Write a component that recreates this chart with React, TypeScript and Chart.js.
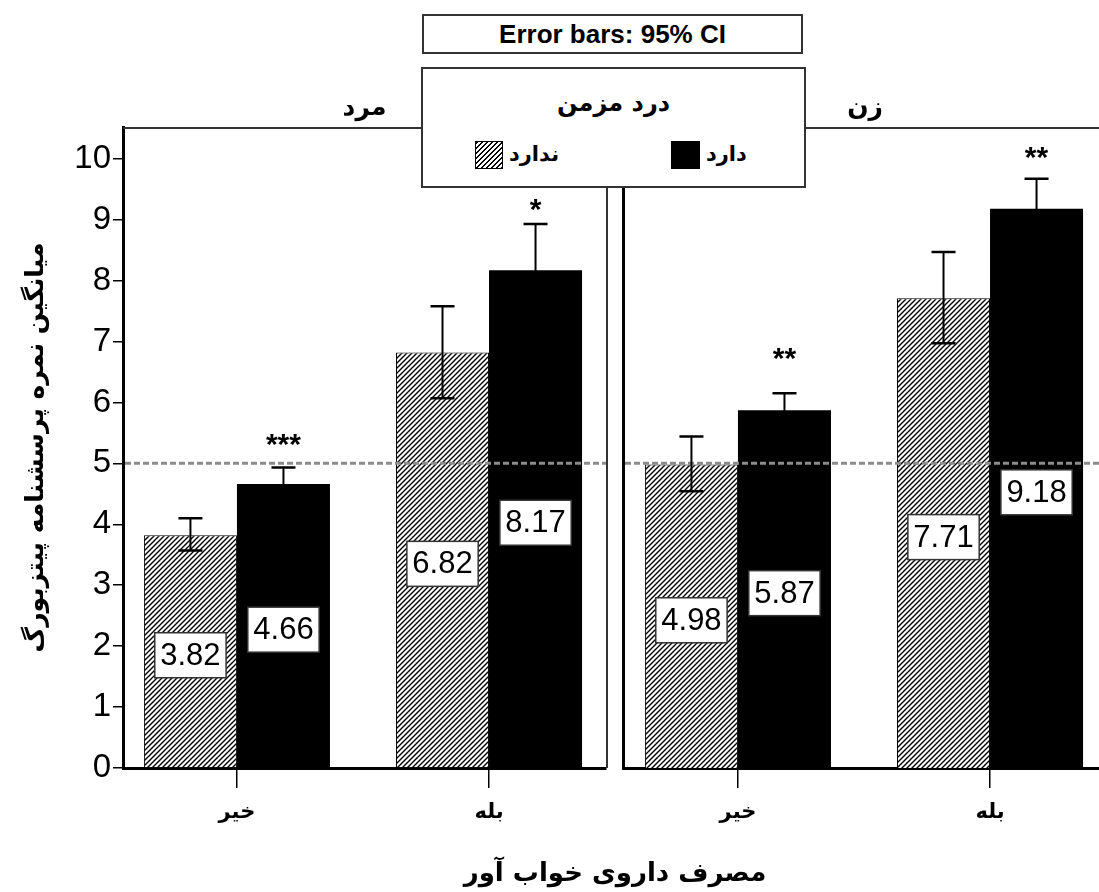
import React, { useEffect, useRef } from 'react';
import { Chart, registerables } from 'chart.js';

Chart.register(...registerables);

// ---------- data ----------
const groups = ['خیر', 'بله'];
const panelTitles = ['مرد', 'زن'];
const seriesLabels = ['ندارد', 'دارد'];
const legendTitle = 'درد مزمن';
const errorNote = 'Error bars: 95% CI';
const xAxisTitle = 'مصرف داروی خواب آور';
const yAxisTitle = 'میانگین نمره پرسشنامه پیتزبورگ';

const maleNo = [3.82, 6.82];
const maleYes = [4.66, 8.17];
const femaleNo = [4.98, 7.71];
const femaleYes = [5.87, 9.18];

const maleNoLow = [3.57, 6.07];
const maleNoHigh = [4.1, 7.58];
const maleYesLow = [4.39, 7.41];
const maleYesHigh = [4.93, 8.93];
const femaleNoLow = [4.54, 6.97];
const femaleNoHigh = [5.44, 8.47];
const femaleYesLow = [5.59, 8.69];
const femaleYesHigh = [6.15, 9.67];

const maleStars = ['***', '*'];
const maleStarY = [5.44, 9.29];
const femaleStars = ['**', '**'];
const femaleStarY = [6.84, 10.14];

const yMin = 0;
const yMax = 10.52;
const yStep = 1;
const refLine = 5;

const LATIN = '"Liberation Sans", Arial, sans-serif';
const ARABIC = '"DejaVu Sans", "Liberation Sans", sans-serif';

type Panel = {
  title: string;
  no: number[];
  yes: number[];
  noLow: number[];
  noHigh: number[];
  yesLow: number[];
  yesHigh: number[];
  stars: string[];
  starY: number[];
  xMin: number;
  xMax: number;
  yWidth: number;
  showY: boolean;
  rightPad: number;
};

function makeHatch(ctx: CanvasRenderingContext2D) {
  const s = 5;
  const c = document.createElement('canvas');
  c.width = s;
  c.height = s;
  const g = c.getContext('2d')!;
  g.fillStyle = '#fff';
  g.fillRect(0, 0, s, s);
  g.strokeStyle = '#000';
  g.lineWidth = 1.4;
  g.beginPath();
  g.moveTo(0, s);
  g.lineTo(s, 0);
  g.moveTo(-1, 1);
  g.lineTo(1, -1);
  g.moveTo(s - 1, s + 1);
  g.lineTo(s + 1, s - 1);
  g.stroke();
  return ctx.createPattern(c, 'repeat')!;
}

function buildChart(canvas: HTMLCanvasElement, p: Panel) {
  const ctx = canvas.getContext('2d')!;
  const hatch = makeHatch(ctx);

  const overlay = {
    id: 'overlay',
    beforeDatasetsDraw(chart: any) {
      const { ctx: c, chartArea: a } = chart;
      c.save();
      c.strokeStyle = '#333';
      c.lineWidth = 2;
      c.beginPath();
      c.moveTo(a.left, a.top + 1);
      c.lineTo(a.right + 1, a.top + 1);
      c.moveTo(a.right + 1, a.top);
      c.lineTo(a.right + 1, a.bottom);
      c.stroke();
      c.fillStyle = '#000';
      c.font = `bold 25px ${ARABIC}`;
      c.textAlign = 'center';
      c.textBaseline = 'middle';
      c.fillText(p.title, (a.left + a.right) / 2, a.top - 19);
      c.restore();
    },
    afterDatasetsDraw(chart: any) {
      const { ctx: c, chartArea: a } = chart;
      const y = chart.scales.y;
      c.save();
      // reference line
      c.strokeStyle = '#8c8c8c';
      c.lineWidth = 3;
      c.setLineDash([6, 3]);
      const ry = y.getPixelForValue(refLine);
      c.beginPath();
      c.moveTo(a.left + 2, ry);
      c.lineTo(a.right, ry);
      c.stroke();
      c.setLineDash([]);
      // error bars
      const ranges = [
        [p.noLow, p.noHigh],
        [p.yesLow, p.yesHigh],
      ];
      ranges.forEach(([lo, hi], di) => {
        const meta = chart.getDatasetMeta(di);
        meta.data.forEach((bar: any, i: number) => {
          const bx = bar.x;
          const t = y.getPixelForValue(hi[i]);
          const b = y.getPixelForValue(lo[i]);
          c.strokeStyle = '#000';
          c.lineWidth = 2;
          c.beginPath();
          c.moveTo(bx, t);
          c.lineTo(bx, b);
          c.stroke();
          c.lineWidth = 2.5;
          c.beginPath();
          c.moveTo(bx - 12, t);
          c.lineTo(bx + 12, t);
          c.moveTo(bx - 12, b);
          c.lineTo(bx + 12, b);
          c.stroke();
        });
      });
      // value labels
      const vals = [p.no, p.yes];
      c.font = `31px ${LATIN}`;
      c.textAlign = 'center';
      c.textBaseline = 'middle';
      vals.forEach((arr, di) => {
        const meta = chart.getDatasetMeta(di);
        meta.data.forEach((bar: any, i: number) => {
          const txt = arr[i].toFixed(2);
          const cy = (bar.y + bar.base) / 2 + 4;
          const w = c.measureText(txt).width + 11;
          const h = 45;
          c.fillStyle = '#fff';
          c.fillRect(bar.x - w / 2, cy - h / 2, w, h);
          c.strokeStyle = '#333';
          c.lineWidth = 1.5;
          c.strokeRect(bar.x - w / 2, cy - h / 2, w, h);
          c.fillStyle = '#000';
          c.fillText(txt, bar.x, cy + 1);
        });
      });
      // significance stars
      c.font = `bold 30px ${LATIN}`;
      c.textBaseline = 'alphabetic';
      const metaYes = chart.getDatasetMeta(1);
      metaYes.data.forEach((bar: any, i: number) => {
        c.fillText(p.stars[i], bar.x, y.getPixelForValue(p.starY[i]) + 17);
      });
      c.restore();
    },
  };

  return new Chart(canvas, {
    type: 'bar',
    data: {
      datasets: [
        {
          label: seriesLabels[0],
          data: groups.map((_, i) => ({ x: i, y: p.no[i] })),
          backgroundColor: hatch,
          borderColor: '#000',
          borderWidth: 1,
        },
        {
          label: seriesLabels[1],
          data: groups.map((_, i) => ({ x: i, y: p.yes[i] })),
          backgroundColor: '#000',
          borderColor: '#000',
          borderWidth: 0,
        },
      ],
    } as any,
    options: {
      animation: false,
      responsive: false,
      events: [],
      layout: { padding: { top: 127, right: p.rightPad, left: 0, bottom: 0 } },
      datasets: { bar: { categoryPercentage: 0.738, barPercentage: 1 } },
      plugins: { legend: { display: false }, tooltip: { enabled: false }, title: { display: false } },
      scales: {
        x: {
          type: 'linear',
          min: p.xMin,
          max: p.xMax,
          offset: false,
          z: 1,
          afterFit: (s: any) => {
            s.height = 124;
          },
          ticks: {
            stepSize: 1,
            includeBounds: false,
            maxRotation: 0,
            autoSkip: false,
            padding: 12,
            color: '#000',
            font: { family: ARABIC, size: 21, weight: 'bold' },
            callback: (v: any) => (Number.isInteger(v) && groups[v] !== undefined ? groups[v] : ''),
          },
          grid: {
            offset: false,
            drawOnChartArea: false,
            drawTicks: true,
            tickLength: 20,
            color: '#000',
            lineWidth: 1.5,
          },
          border: { display: true, color: '#000', width: 3 },
        },
        y: {
          type: 'linear',
          min: yMin,
          max: yMax,
          z: 1,
          afterFit: (s: any) => {
            s.width = p.yWidth;
          },
          ticks: {
            display: p.showY,
            stepSize: yStep,
            includeBounds: false,
            padding: 2,
            color: '#000',
            font: { family: LATIN, size: 33 },
            callback: (v: any) => (Number.isInteger(v) ? String(v) : ''),
          },
          grid: { display: p.showY, drawOnChartArea: false, drawTicks: true, tickLength: 10, color: '#000', lineWidth: 1.5 },
          border: { display: true, color: '#000', width: 3 },
          title: {
            display: p.showY,
            text: yAxisTitle,
            color: '#000',
            font: { family: ARABIC, size: 25, weight: 'bold' },
            padding: { top: 21, bottom: 0 },
          },
        },
      },
    } as any,
    plugins: [overlay],
  });
}

const malePanel: Panel = {
  title: panelTitles[0],
  no: maleNo,
  yes: maleYes,
  noLow: maleNoLow,
  noHigh: maleNoHigh,
  yesLow: maleYesLow,
  yesHigh: maleYesHigh,
  stars: maleStars,
  starY: maleStarY,
  xMin: -0.452,
  xMax: 1.464,
  yWidth: 123,
  showY: true,
  rightPad: 9,
};

const femalePanel: Panel = {
  title: panelTitles[1],
  no: femaleNo,
  yes: femaleYes,
  noLow: femaleNoLow,
  noHigh: femaleNoHigh,
  yesLow: femaleYesLow,
  yesHigh: femaleYesHigh,
  stars: femaleStars,
  starY: femaleStarY,
  xMin: -0.456,
  xMax: 1.464,
  yWidth: 8,
  showY: false,
  rightPad: 8,
};

export default function App() {
  const leftRef = useRef<HTMLCanvasElement>(null);
  const rightRef = useRef<HTMLCanvasElement>(null);

  useEffect(() => {
    const a = buildChart(leftRef.current!, malePanel);
    const b = buildChart(rightRef.current!, femalePanel);
    return () => {
      a.destroy();
      b.destroy();
    };
  }, []);

  const box: React.CSSProperties = {
    position: 'absolute',
    background: '#fff',
    border: '2px solid #333',
    boxSizing: 'border-box',
    zIndex: 2,
  };

  return (
    <div
      style={{
        position: 'absolute',
        left: 0,
        top: 0,
        width: 1099,
        height: 892,
        overflow: 'hidden',
        background: '#fff',
      }}
    >
      <canvas ref={leftRef} width={615} height={892} style={{ position: 'absolute', left: 0, top: 0 }} />
      <canvas ref={rightRef} width={500} height={892} style={{ position: 'absolute', left: 615, top: 0 }} />

      <div
        style={{
          ...box,
          left: 422,
          top: 14,
          width: 381,
          height: 40,
          font: `bold 26px ${LATIN}`,
          lineHeight: '36px',
          textAlign: 'center',
          color: '#000',
        }}
      >
        {errorNote}
      </div>

      <div style={{ ...box, left: 421, top: 67, width: 385, height: 121 }}>
        <div
          dir="rtl"
          style={{
            position: 'absolute',
            left: 0,
            width: '100%',
            top: 18,
            textAlign: 'center',
            font: `bold 24px ${ARABIC}`,
            lineHeight: '32px',
            color: '#000',
          }}
        >
          {legendTitle}
        </div>
        <div
          style={{
            position: 'absolute',
            left: 52,
            top: 72,
            width: 28,
            height: 28,
            border: '1px solid #000',
            boxSizing: 'border-box',
            background: 'repeating-linear-gradient(-45deg, #000 0px, #000 1.3px, #fff 1.3px, #fff 3.5px)',
          }}
        />
        <div
          dir="rtl"
          style={{
            position: 'absolute',
            left: 86,
            top: 70,
            font: `bold 21px ${ARABIC}`,
            lineHeight: '30px',
            color: '#000',
          }}
        >
          {seriesLabels[0]}
        </div>
        <div
          style={{
            position: 'absolute',
            left: 248,
            top: 72,
            width: 29,
            height: 28,
            background: '#000',
          }}
        />
        <div
          dir="rtl"
          style={{
            position: 'absolute',
            left: 283,
            top: 70,
            font: `bold 21px ${ARABIC}`,
            lineHeight: '30px',
            color: '#000',
          }}
        >
          {seriesLabels[1]}
        </div>
      </div>

      <div
        dir="rtl"
        style={{
          position: 'absolute',
          left: 315,
          width: 600,
          top: 855,
          textAlign: 'center',
          font: `bold 26px ${ARABIC}`,
          lineHeight: '34px',
          color: '#000',
        }}
      >
        {xAxisTitle}
      </div>
    </div>
  );
}
